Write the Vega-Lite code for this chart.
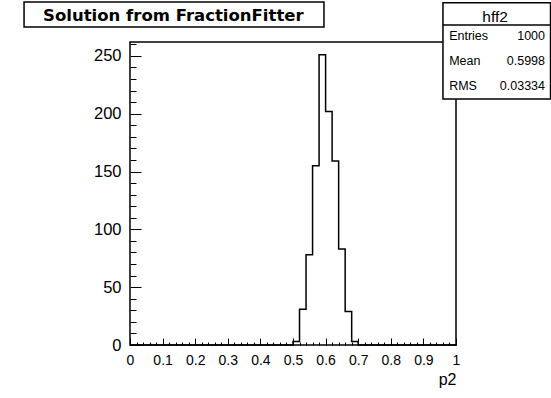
{
  "$schema": "https://vega.github.io/schema/vega-lite/v6.json",
  "width": 326,
  "height": 303,
  "autosize": {"type": "none"},
  "padding": {"left": 130, "top": 42, "right": 95, "bottom": 53},
  "background": "white",
  "config": {
    "view": {"stroke": "black", "strokeWidth": 1.5},
    "font": "Liberation Sans",
    "axis": {"domain": false, "grid": false, "labelColor": "black", "tickColor": "black", "labelFont": "Liberation Sans", "titleFont": "Liberation Sans"}
  },
  "datasets": {
    "hist": [
      {"x": 0.00, "count": 0}, {"x": 0.02, "count": 0}, {"x": 0.04, "count": 0}, {"x": 0.06, "count": 0}, {"x": 0.08, "count": 0},
      {"x": 0.10, "count": 0}, {"x": 0.12, "count": 0}, {"x": 0.14, "count": 0}, {"x": 0.16, "count": 0}, {"x": 0.18, "count": 0},
      {"x": 0.20, "count": 0}, {"x": 0.22, "count": 0}, {"x": 0.24, "count": 0}, {"x": 0.26, "count": 0}, {"x": 0.28, "count": 0},
      {"x": 0.30, "count": 0}, {"x": 0.32, "count": 0}, {"x": 0.34, "count": 0}, {"x": 0.36, "count": 0}, {"x": 0.38, "count": 0},
      {"x": 0.40, "count": 0}, {"x": 0.42, "count": 0}, {"x": 0.44, "count": 0}, {"x": 0.46, "count": 0}, {"x": 0.48, "count": 0},
      {"x": 0.50, "count": 3}, {"x": 0.52, "count": 31}, {"x": 0.54, "count": 78}, {"x": 0.56, "count": 155}, {"x": 0.58, "count": 251},
      {"x": 0.60, "count": 202}, {"x": 0.62, "count": 159}, {"x": 0.64, "count": 83}, {"x": 0.66, "count": 29}, {"x": 0.68, "count": 3},
      {"x": 0.70, "count": 0}, {"x": 0.72, "count": 0}, {"x": 0.74, "count": 0}, {"x": 0.76, "count": 0}, {"x": 0.78, "count": 0},
      {"x": 0.80, "count": 0}, {"x": 0.82, "count": 0}, {"x": 0.84, "count": 0}, {"x": 0.86, "count": 0}, {"x": 0.88, "count": 0},
      {"x": 0.90, "count": 0}, {"x": 0.92, "count": 0}, {"x": 0.94, "count": 0}, {"x": 0.96, "count": 0}, {"x": 0.98, "count": 0},
      {"x": 1.00, "count": 0}
    ],
    "boxes": [
      {"name": "title", "x1": -0.325, "x2": 0.595, "y1": 296.6, "y2": 275.0},
      {"name": "stats", "x1": 0.960, "x2": 1.29, "y1": 296.0, "y2": 212.7}
    ],
    "seps": [
      {"x1": 0.960, "x2": 1.29, "y": 276.7}
    ],
    "titletext": [
      {"label": "Solution from FractionFitter", "x": 0.133, "y": 279.9}
    ],
    "histname": [
      {"label": "hff2", "x": 1.12, "y": 279.5}
    ],
    "statnames": [
      {"label": "Entries", "x": 0.979, "y": 263.7},
      {"label": "Mean", "x": 0.979, "y": 242.1},
      {"label": "RMS", "x": 0.979, "y": 220.5}
    ],
    "statvals": [
      {"label": "1000", "x": 1.273, "y": 263.7},
      {"label": "0.5998", "x": 1.273, "y": 242.1},
      {"label": "0.03334", "x": 1.273, "y": 220.5}
    ]
  },
  "resolve": {"axis": {"x": "independent", "y": "independent"}},
  "layer": [
    {
      "data": {"name": "hist"},
      "mark": {"type": "line", "interpolate": "step-after", "color": "black", "strokeWidth": 1.5},
      "encoding": {
        "x": {
          "field": "x", "type": "quantitative",
          "scale": {"domain": [0, 1], "nice": false, "zero": false},
          "axis": {"orient": "bottom", "values": [0, 0.1, 0.2, 0.3, 0.4, 0.5, 0.6, 0.7, 0.8, 0.9, 1], "format": "~g",
                   "tickSize": -7, "tickWidth": 1, "labelPadding": 15, "labelFontSize": 14, "labelFlush": false,
                   "title": "p2", "titleAnchor": "end", "titleFontSize": 16, "titleFontWeight": "normal", "titlePadding": 4, "titleColor": "black"}
        },
        "y": {
          "field": "count", "type": "quantitative",
          "scale": {"domain": [0, 262], "nice": false},
          "axis": {"orient": "left", "values": [0, 50, 100, 150, 200, 250], "tickSize": -11, "tickWidth": 1,
                   "labelPadding": 20, "labelFontSize": 16.5, "labelFlush": false, "title": null}
        }
      }
    },
    {
      "data": {"name": "boxes"},
      "mark": {"type": "rect", "fill": "white", "stroke": "black", "strokeWidth": 1.5, "clip": false},
      "encoding": {
        "x": {"field": "x1", "type": "quantitative", "scale": {"domain": [0, 1], "nice": false, "zero": false},
              "axis": {"orient": "bottom", "values": [0.02,0.04,0.06,0.08,0.12,0.14,0.16,0.18,0.22,0.24,0.26,0.28,0.32,0.34,0.36,0.38,0.42,0.44,0.46,0.48,0.52,0.54,0.56,0.58,0.62,0.64,0.66,0.68,0.72,0.74,0.76,0.78,0.82,0.84,0.86,0.88,0.92,0.94,0.96,0.98],
                       "labels": false, "tickSize": -3, "tickWidth": 1, "title": null}},
        "x2": {"field": "x2"},
        "y": {"field": "y1", "type": "quantitative", "scale": {"domain": [0, 262], "nice": false},
              "axis": {"orient": "left", "values": [10,20,30,40,60,70,80,90,110,120,130,140,160,170,180,190,210,220,230,240,260],
                       "labels": false, "tickSize": -6, "tickWidth": 1, "title": null}},
        "y2": {"field": "y2"}
      }
    },
    {
      "data": {"name": "seps"},
      "mark": {"type": "rule", "color": "black", "strokeWidth": 1.5, "clip": false},
      "encoding": {
        "x": {"field": "x1", "type": "quantitative", "axis": null},
        "x2": {"field": "x2"},
        "y": {"field": "y", "type": "quantitative", "axis": null}
      }
    },
    {
      "data": {"name": "titletext"},
      "mark": {"type": "text", "align": "center", "baseline": "alphabetic", "font": "DejaVu Sans", "fontSize": 16.5, "fontWeight": "bold", "color": "black"},
      "encoding": {
        "x": {"field": "x", "type": "quantitative", "axis": null},
        "y": {"field": "y", "type": "quantitative", "axis": null},
        "text": {"field": "label"}
      }
    },
    {
      "data": {"name": "histname"},
      "mark": {"type": "text", "align": "center", "baseline": "alphabetic", "fontSize": 15.5, "color": "black"},
      "encoding": {
        "x": {"field": "x", "type": "quantitative", "axis": null},
        "y": {"field": "y", "type": "quantitative", "axis": null},
        "text": {"field": "label"}
      }
    },
    {
      "data": {"name": "statnames"},
      "mark": {"type": "text", "align": "left", "baseline": "alphabetic", "fontSize": 12.5, "color": "black"},
      "encoding": {
        "x": {"field": "x", "type": "quantitative", "axis": null},
        "y": {"field": "y", "type": "quantitative", "axis": null},
        "text": {"field": "label"}
      }
    },
    {
      "data": {"name": "statvals"},
      "mark": {"type": "text", "align": "right", "baseline": "alphabetic", "fontSize": 12.5, "color": "black"},
      "encoding": {
        "x": {"field": "x", "type": "quantitative", "axis": null},
        "y": {"field": "y", "type": "quantitative", "axis": null},
        "text": {"field": "label"}
      }
    }
  ]
}
